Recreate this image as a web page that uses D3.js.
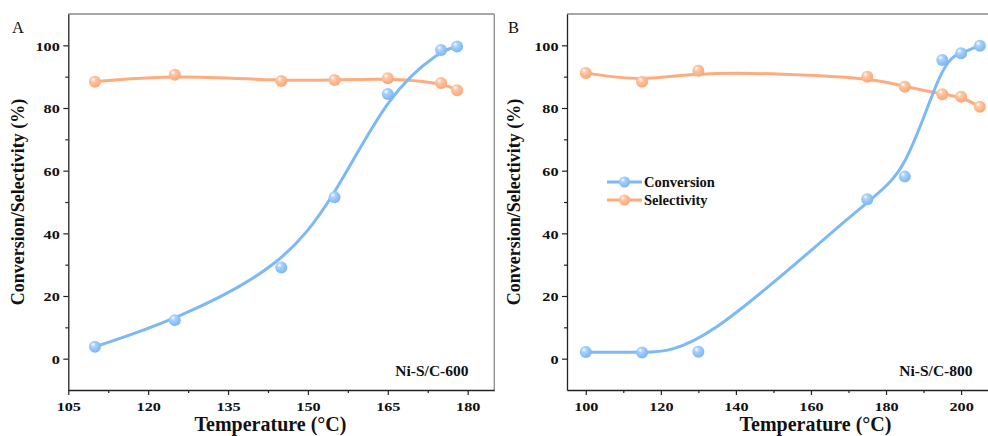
<!DOCTYPE html>
<html>
<head>
<meta charset="utf-8">
<script src="https://cdn.jsdelivr.net/npm/d3@7"></script>
<style>
  html, body { margin: 0; padding: 0; background: #fff; }
  svg { display: block; }
</style>
</head>
<body>
<svg id="chart" width="988" height="436"></svg>
<script>
// ---------- DATA ----------
const tempA = [110, 125, 145, 155, 165, 175, 178];
const conversionA = [3.8, 12.3, 29.1, 51.5, 84.5, 98.5, 99.6];
const selectivityA = [88.4, 90.6, 88.6, 88.9, 89.5, 88.0, 85.7];

const tempB = [100, 115, 130, 175, 185, 195, 200, 205];
const conversionB = [2.1, 2.0, 2.2, 50.9, 58.1, 95.3, 97.5, 99.9];
const selectivityB = [91.2, 88.4, 91.9, 90.0, 86.8, 84.4, 83.6, 80.4];

const yTicks = [0, 20, 40, 60, 80, 100];
const yMinor = [10, 30, 50, 70, 90];
const xTicksA = [105, 120, 135, 150, 165, 180];
const xMinorA = [112.5, 127.5, 142.5, 157.5, 172.5];
const xTicksB = [100, 120, 140, 160, 180, 200];
const xMinorB = [110, 130, 150, 170, 190];

const seriesNames = ["Conversion", "Selectivity"];
const panelLabels = ["A", "B"];
const sampleLabels = ["Ni-S/C-600", "Ni-S/C-800"];
const xTitle = "Temperature (\u00B0C)";
const yTitle = "Conversion/Selectivity (%)";

// ---------- STYLE ----------
const blue = "#7db9f6";
const orange = "#fdad7d";
const serif = "'Liberation Serif', 'Times New Roman', serif";

const svg = d3.select("#chart");
const defs = svg.append("defs");
function sphereGrad(id, base, mid) {
  const g = defs.append("radialGradient").attr("id", id)
    .attr("cx", "40%").attr("cy", "38%").attr("r", "65%").attr("fx", "35%").attr("fy", "30%");
  g.append("stop").attr("offset", "0%").attr("stop-color", "#ffffff");
  g.append("stop").attr("offset", "30%").attr("stop-color", mid);
  g.append("stop").attr("offset", "100%").attr("stop-color", base);
}
sphereGrad("gBlue", "#78b4f4", "#a9d2fb");
sphereGrad("gOrange", "#fca574", "#fdc7a4");

function drawPanel(cfg) {
  const x = d3.scaleLinear().domain(cfg.xDomain).range([cfg.left, cfg.right]);
  const y = d3.scaleLinear().domain([-10, 110]).range([390, 14]);
  const g = svg.append("g");

  // frame top/right (gray)
  g.append("line").attr("x1", cfg.left).attr("x2", cfg.right).attr("y1", 14).attr("y2", 14)
    .attr("stroke", "#8a8a8a").attr("stroke-width", 1.3);
  g.append("line").attr("x1", cfg.right).attr("x2", cfg.right).attr("y1", 14).attr("y2", 390)
    .attr("stroke", "#8a8a8a").attr("stroke-width", 1.3);

  // y axis
  const yAx = g.append("g").attr("transform", `translate(${cfg.left},0)`)
    .call(d3.axisLeft(y).tickValues(yTicks).tickSize(5).tickSizeOuter(0).tickPadding(4));
  yAx.append("g").call(d3.axisLeft(y).tickValues(yMinor).tickSize(3).tickFormat(""))
    .select(".domain").remove();
  // x axis
  const xAx = g.append("g").attr("transform", "translate(0,390)")
    .call(d3.axisBottom(x).tickValues(cfg.xTicks).tickSize(5).tickSizeOuter(0).tickPadding(6));
  xAx.append("g").call(d3.axisBottom(x).tickValues(cfg.xMinor).tickSize(3).tickFormat(""))
    .select(".domain").remove();

  [yAx, xAx].forEach(a => {
    a.selectAll(".domain").attr("stroke", "#222").attr("stroke-width", 1.3);
    a.selectAll(".tick line").attr("stroke", "#222").attr("stroke-width", 1.2);
    a.selectAll(".tick text").attr("font-family", serif).attr("font-weight", "bold")
      .attr("font-size", 13.5).attr("fill", "#111");
  });
  yAx.selectAll(".tick text").attr("transform", "scale(1.2,1)").attr("x", -8.5 / 1.2).attr("dy", "0.35em");
  xAx.selectAll(".tick text").attr("text-anchor", "middle").attr("transform", "scale(1.2,1)");

  // axis titles
  g.append("text").attr("x", cfg.xTitleX).attr("y", 431).attr("text-anchor", "middle")
    .attr("font-family", serif).attr("font-weight", "bold").attr("font-size", 20)
    .attr("fill", "#111").text(xTitle);
  g.append("text").attr("transform", `translate(${cfg.yTitleX},202) rotate(-90)`)
    .attr("text-anchor", "middle").attr("font-family", serif).attr("font-weight", "bold")
    .attr("font-size", 18).attr("fill", "#111").text(yTitle);

  // panel letter
  g.append("text").attr("x", cfg.letterX).attr("y", 32.5).attr("font-family", serif)
    .attr("font-size", 16.5).attr("fill", "#111").text(cfg.letter);
  // sample label
  g.append("text").attr("x", cfg.sampleX).attr("y", 375.5).attr("text-anchor", "end")
    .attr("font-family", serif).attr("font-weight", "bold").attr("font-size", 15.5)
    .attr("fill", "#111").text(cfg.sample);

  const clip = "clip" + cfg.letter;
  defs.append("clipPath").attr("id", clip).append("rect")
    .attr("x", cfg.left).attr("y", 14).attr("width", cfg.right - cfg.left).attr("height", 376);

  const line = d3.line().x(d => x(d[0])).y(d => y(d[1])).curve(d3.curveBasis);
  const series = [
    { vals: cfg.sel, color: orange, grad: "url(#gOrange)" },
    { vals: cfg.conv, color: blue, grad: "url(#gBlue)" }
  ];
  series.forEach(s => {
    const pts = cfg.temps.map((t, i) => [t, s.vals[i]]);
    g.append("path").attr("d", line(pts)).attr("fill", "none").attr("stroke", s.color)
      .attr("stroke-width", 3).attr("clip-path", `url(#${clip})`);
  });
  series.forEach(s => {
    const pts = cfg.temps.map((t, i) => [t, s.vals[i]]);
    g.selectAll(null).data(pts).enter().append("circle")
      .attr("cx", d => x(d[0])).attr("cy", d => y(d[1])).attr("r", 6)
      .attr("fill", s.grad);
  });

  if (cfg.legend) {
    const lg = g.append("g");
    const items = [{ name: seriesNames[0], color: blue, grad: "url(#gBlue)" },
                   { name: seriesNames[1], color: orange, grad: "url(#gOrange)" }];
    items.forEach((it, i) => {
      const yy = 182 + i * 18;
      lg.append("line").attr("x1", 607).attr("x2", 642).attr("y1", yy).attr("y2", yy)
        .attr("stroke", it.color).attr("stroke-width", 3);
      lg.append("circle").attr("cx", 624.5).attr("cy", yy).attr("r", 5.5).attr("fill", it.grad);
      lg.append("text").attr("x", 644).attr("y", yy + 5).attr("font-family", serif)
        .attr("font-weight", "bold").attr("font-size", 14.5).attr("fill", "#111").text(it.name);
    });
  }
}

drawPanel({
  left: 68.3, right: 494.3, xDomain: [105, 185],
  xTicks: xTicksA, xMinor: xMinorA,
  temps: tempA, conv: conversionA, sel: selectivityA,
  xTitleX: 270.5, yTitleX: 24, letterX: 12, letter: panelLabels[0],
  sampleX: 468.5, sample: sampleLabels[0], legend: false
});
drawPanel({
  left: 567, right: 999, xDomain: [95, 210.1],
  xTicks: xTicksB, xMinor: xMinorB,
  temps: tempB, conv: conversionB, sel: selectivityB,
  xTitleX: 815.5, yTitleX: 519.5, letterX: 508, letter: panelLabels[1],
  sampleX: 972.5, sample: sampleLabels[1], legend: true
});
</script>
</body>
</html>
